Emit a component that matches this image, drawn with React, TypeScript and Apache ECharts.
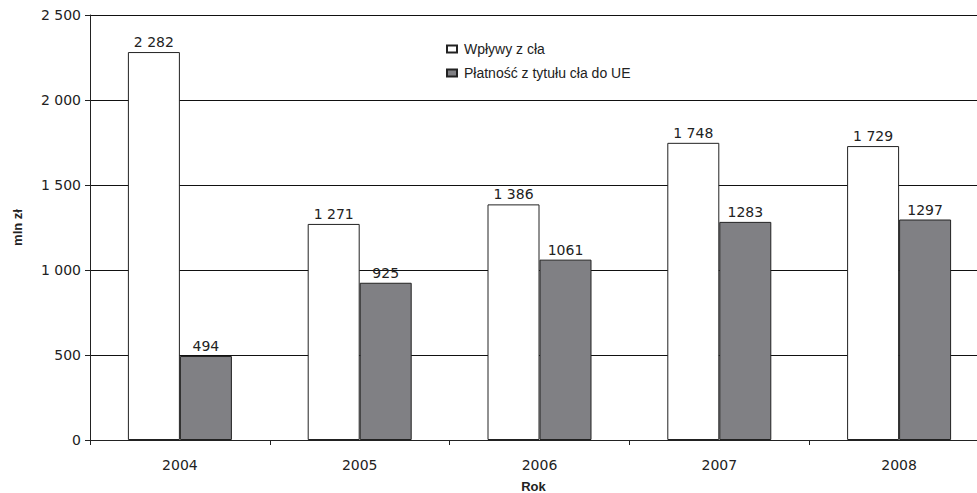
import React, { useEffect, useRef } from "react";
import * as echarts from "echarts";

const categories = ["2004", "2005", "2006", "2007", "2008"];
const wplywy = [2282, 1271, 1386, 1748, 1729];
const platnosc = [494, 925, 1061, 1283, 1297];
const seriesNames = ["Wpływy z cła", "Płatność z tytułu cła do UE"];

const spaced = (v: number) => String(v).replace(/\B(?=(\d{3})+(?!\d))/g, " ");

export default function App() {
  const ref = useRef<HTMLDivElement>(null);
  useEffect(() => {
    const chart = echarts.init(ref.current!, null, { renderer: "svg" });
    const tickFont = { fontFamily: "DejaVu Sans", fontSize: 14, color: "#222" };
    chart.setOption({
      animation: false,
      backgroundColor: "#fff",
      grid: { left: 90, top: 15, width: 899, height: 425, containLabel: false, outerBoundsMode: "none" },
      legend: {
        orient: "vertical",
        left: 441,
        top: 37,
        itemWidth: 10,
        itemHeight: 7,
        itemGap: 10,
        icon: "rect",
        textStyle: { fontFamily: "Liberation Sans", fontSize: 14, color: "#222", padding: [0, 0, 0, 2] },
        data: seriesNames,
      },
      xAxis: {
        type: "category",
        data: categories,
        name: "Rok",
        nameLocation: "middle",
        nameGap: 40,
        nameTextStyle: { fontFamily: "Liberation Sans", fontSize: 13, fontWeight: "bold", color: "#222", padding: [0, 12, 0, 0] },
        axisLine: { lineStyle: { color: "#222", width: 1 } },
        axisTick: { show: true, length: 5, lineStyle: { color: "#222" } },
        axisLabel: { ...tickFont, margin: 18 },
      },
      yAxis: {
        type: "value",
        min: 0,
        max: 2500,
        interval: 500,
        name: "mln zł",
        nameLocation: "middle",
        nameGap: 66,
        nameTextStyle: { fontFamily: "Liberation Sans", fontSize: 13, fontWeight: "bold", color: "#222" },
        axisLine: { show: true, lineStyle: { color: "#222", width: 1 } },
        axisTick: { show: true, length: 5, lineStyle: { color: "#222" } },
        axisLabel: { ...tickFont, margin: 9, formatter: (v: number) => spaced(v) },
        splitLine: { lineStyle: { color: "#111", width: 1 } },
      },
      series: [
        {
          name: seriesNames[0],
          type: "bar",
          data: wplywy,
          barWidth: 52,
          barGap: "0%",
          itemStyle: { color: "#ffffff", borderColor: "#222", borderWidth: 1 },
          label: { show: true, position: "top", distance: 3, ...tickFont, formatter: (p: any) => spaced(p.value) },
        },
        {
          name: seriesNames[1],
          type: "bar",
          data: platnosc,
          barWidth: 52,
          barGap: "0%",
          itemStyle: { color: "#808084", borderColor: "#222", borderWidth: 1 },
          label: { show: true, position: "top", distance: 3, ...tickFont },
        },
      ],
    });
    return () => chart.dispose();
  }, []);
  return (
    <div style={{ position: "absolute", left: 0, top: 0, width: 977, height: 493, overflow: "hidden", background: "#fff" }}>
      <div ref={ref} style={{ width: 1000, height: 493 }} />
    </div>
  );
}
